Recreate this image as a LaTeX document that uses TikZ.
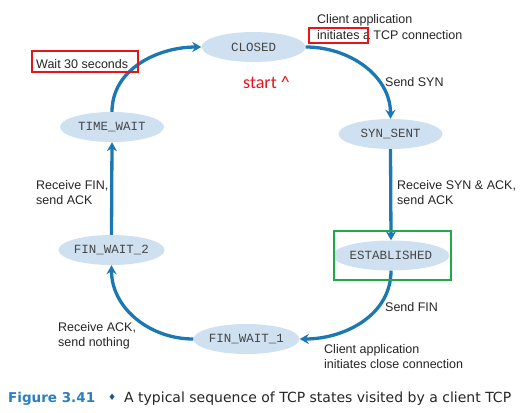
\documentclass[tikz,border=0pt]{standalone}
\usepackage{fontspec}
\setmainfont{Liberation Sans}
\newfontfamily\monof{Liberation Mono}
\newfontfamily\startf{Carlito}
\newfontfamily\symf{DejaVu Sans}
\usetikzlibrary{arrows.meta,shapes.geometric}
\definecolor{nodefill}{HTML}{CFE1F1}
\definecolor{arrowblue}{HTML}{1B78B3}
\definecolor{boxred}{HTML}{E8141C}
\definecolor{boxgreen}{HTML}{22A84A}
\definecolor{capblue}{HTML}{2A7FC0}
\definecolor{nodetext}{HTML}{454545}
\tikzset{
  state/.style={ellipse, fill=nodefill, minimum width=104pt, minimum height=30pt, inner sep=0pt,
    font=\monof\fontsize{12.5}{14}\selectfont, text=nodetext},
  conn/.style={draw=arrowblue, line width=3.3pt, -{Stealth[length=9pt,width=10pt]}},
  lbl/.style={anchor=base west, align=left, inner sep=0pt, font=\fontsize{12.5}{15.5}\selectfont, text=black!85},
  hl/.style={line width=2.5pt}
}
\begin{document}
\begin{tikzpicture}[x=1pt,y=-1pt]
\useasboundingbox[fill=white] (0,0) rectangle (532,412);
\node[state] (cl) at (253.5,47) {CLOSED};
\node[state] (ss) at (390.5,134) {SYN\_SENT};
\node[state] (es) at (391,255.5) {ESTABLISHED};
\node[state] (f1) at (246.5,339) {FIN\_WAIT\_1};
\node[state] (f2) at (111.5,250) {FIN\_WAIT\_2};
\node[state] (tw) at (112,127) {TIME\_WAIT};

\draw[conn] (tw.north) to[out=90,in=180] (cl.west);
\draw[conn] (cl.east) to[out=0,in=90] (ss.north);
\draw[conn] (ss.south) -- (es.north);
\draw[conn] (es.south) to[out=-90,in=0] (f1.east);
\draw[conn] (f1.west) to[out=180,in=-90] (f2.south);
\draw[conn] (f2.north) -- (tw.south);

% multi-line labels: base anchor is the last line's baseline
\node[lbl] (l1) at (317,39.5) {Client application\\initiates a TCP connection};
\node[lbl] (l2) at (36,68) {Wait 30 seconds};
\node[lbl] (l3) at (385,86) {Send SYN};
\node[lbl] (l4) at (397,204.5) {Receive SYN \& ACK,\\send ACK};
\node[lbl] (l5) at (36,204.5) {Receive FIN,\\send ACK};
\node[lbl] (l6) at (385,311) {Send FIN};
\node[lbl] (l7) at (324,368.5) {Client application\\initiates close connection};
\node[lbl] (l8) at (58,346.5) {Receive ACK,\\send nothing};
\node[anchor=base west, inner sep=0pt, text=boxred, font=\startf\fontsize{18}{20}\selectfont] (st) at (243,88) {start \^{}};

\draw[boxred, hl] (309,28) rectangle (368,43);
\draw[boxred, hl] (32,51) rectangle (138,72);
\draw[boxgreen, hl] (334,231) rectangle (451,280);

\node[anchor=base west, inner sep=0pt, text=capblue, font=\symf\bfseries\fontsize{13.5}{16}\selectfont] (cap1) at (8,402) {Figure 3.41};
\node[anchor=base west, inner sep=0pt, text=capblue!70!black, font=\symf\fontsize{9}{10}\selectfont] (dia) at (108,400) {♦};
\node[anchor=base west, inner sep=0pt, text=black!85, font=\symf\fontsize{14}{16}\selectfont] (cap2) at (124,402) {A typical sequence of TCP states visited by a client TCP};
\end{tikzpicture}
\end{document}
